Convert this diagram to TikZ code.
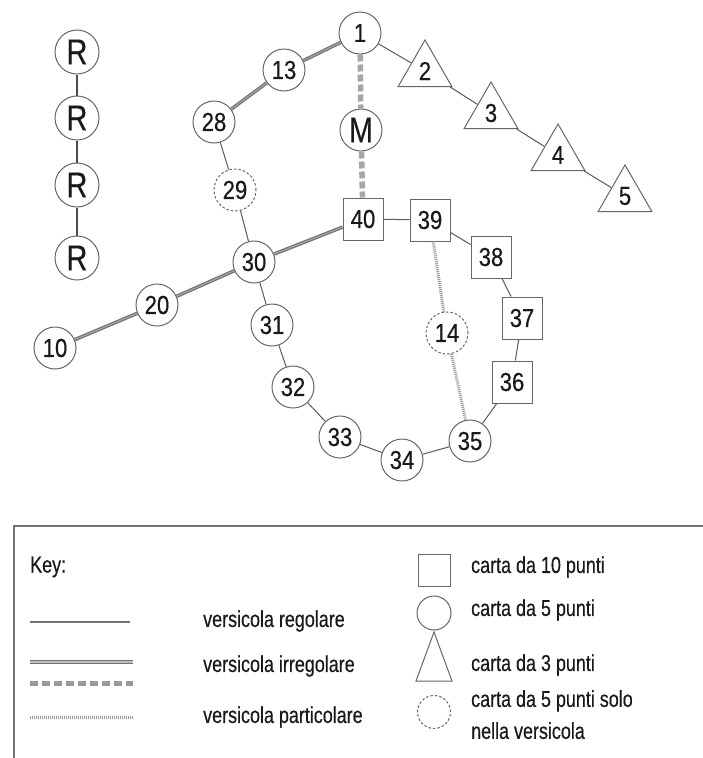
\documentclass[tikz,border=0pt]{standalone}
\usepackage{fontspec}
\setmainfont{Liberation Sans}
\newfontfamily\narrowfont[FakeStretch=0.85, FakeBold=0.4]{Liberation Sans}
\newfontfamily\keynarrowfont[FakeStretch=0.78, FakeBold=0.4]{Liberation Sans}
\newfontfamily\bignarrowfont[FakeStretch=0.8, FakeBold=0.3]{Liberation Sans}
\usetikzlibrary{shapes.geometric}
\begin{document}
\begin{tikzpicture}[x=1pt,y=-1pt,
  nodefont/.style={font=\narrowfont\fontsize{26}{28}\selectfont},
  bigfont/.style={font=\bignarrowfont\fontsize{36}{38}\selectfont},
  keyfont/.style={font=\keynarrowfont\fontsize{23}{32}\selectfont, text=black!90, inner sep=0pt, anchor=west, align=left},
  base/.style={draw=black!60, line width=1pt, fill=white, inner sep=0pt, text=black!90},
  cnode/.style={base, circle, minimum size=42pt, nodefont},
  dnode/.style={cnode, dash pattern=on 2.5pt off 2pt},
  rnode/.style={cnode, minimum size=44pt, bigfont},
  snode/.style={base, rectangle, minimum width=40pt, minimum height=42pt, nodefont},
  tnode/.style={base, regular polygon, regular polygon sides=3, minimum size=62pt, nodefont},
  reg/.style={draw=black!65, line width=1pt},
  rline/.style={draw=black!70, line width=1.6pt},
  irr/.style={draw=black!55, double=black!35, double distance=1.1pt, line width=1.2pt},
  mdash/.style={draw=black!35, line width=5.5pt, dash pattern=on 7pt off 3pt},
  part/.style={draw=black!40, line width=3pt, dash pattern=on 1pt off 1pt},
  frame/.style={draw=black!55, line width=1.6pt}
]
\useasboundingbox (0,0) rectangle (702,758);

% R column
\node[rnode] (r1) at (77,52) {R};
\node[rnode] (r2) at (77,118) {R};
\node[rnode] (r3) at (77,185) {R};
\node[rnode] (r4) at (77,258) {R};

% main nodes
\node[cnode] (n1) at (360,33) {1};
\node[cnode] (n13) at (284,70) {13};
\node[cnode] (n28) at (214,122) {28};
\node[dnode] (n29) at (235,190) {29};
\node[cnode] (n30) at (254,262) {30};
\node[cnode] (n20) at (157,305) {20};
\node[cnode] (n10) at (55,348) {10};
\node[cnode, bigfont] (nM) at (361,130) {M};
\node[snode] (n40) at (363,219) {40};
\node[snode] (n39) at (430,220) {39};
\node[snode] (n38) at (491,257) {38};
\node[snode] (n37) at (522,318) {37};
\node[snode] (n36) at (512,382) {36};
\node[cnode] (n35) at (470,441) {35};
\node[cnode] (n34) at (402,460) {34};
\node[cnode] (n33) at (340,437) {33};
\node[cnode] (n32) at (293,387) {32};
\node[cnode] (n31) at (272,325) {31};
\node[dnode] (n14) at (447,333) {14};
\node[tnode] (n2) at (425,71) {2};
\node[tnode] (n3) at (491,113) {3};
\node[tnode] (n4) at (558,155) {4};
\node[tnode] (n5) at (625,196) {5};

% connectors
\draw[rline] (r1) -- (r2);
\draw[rline] (r2) -- (r3);
\draw[rline] (r3) -- (r4);

\draw[irr] (n1) -- (n13);
\draw[irr] (n13) -- (n28);
\draw[irr] (n30) -- (n40);
\draw[irr] (n30) -- (n20);
\draw[irr] (n20) -- (n10);
\draw[reg] (n28) -- (n29);
\draw[reg] (n29) -- (n30);
\draw[mdash] (n1) -- (nM);
\draw[mdash] (nM) -- (n40);
\draw[reg] (n1) -- (n2);
\draw[reg] (n2) -- (n3);
\draw[reg] (n3) -- (n4);
\draw[reg] (n4) -- (n5);
\draw[reg] (n40) -- (n39);
\draw[reg] (n39) -- (n38);
\draw[reg] (n38) -- (n37);
\draw[reg] (n37) -- (n36);
\draw[reg] (n36) -- (n35);
\draw[reg] (n35) -- (n34);
\draw[reg] (n34) -- (n33);
\draw[reg] (n33) -- (n32);
\draw[reg] (n32) -- (n31);
\draw[reg] (n31) -- (n30);
\draw[part] (n39) -- (n14);
\draw[part] (n14) -- (n35);

% legend frame
\draw[frame] (14,770) -- (14,526) -- (712,526);
\node[keyfont] (key) at (30,567) {Key:};

\coordinate (ra) at (30,622); \coordinate (rb) at (130,622);
\draw[draw=black!55, line width=1.8pt] (ra) -- (rb);
\node[keyfont] (lreg) at (203,621) {versicola regolare};

\coordinate (ia) at (30,662); \coordinate (ib) at (133,662);
\draw[draw=black!55, double=black!25, double distance=1.6pt, line width=1.6pt] (ia) -- (ib);
\coordinate (da) at (30,683); \coordinate (db) at (133,683);
\draw[draw=black!40, line width=5pt, dash pattern=on 8pt off 4pt] (da) -- (db);
\node[keyfont] (lirr) at (203,666) {versicola irregolare};

\coordinate (pa) at (30,717); \coordinate (pb) at (133,717);
\draw[part] (pa) -- (pb);
\node[keyfont] (lpart) at (203,717) {versicola particolare};

\node[base, rectangle, minimum size=32pt] (ksq) at (434,570) {};
\node[keyfont] (lsq) at (471,567) {carta da 10 punti};
\node[base, circle, minimum size=34pt] (kci) at (434,613) {};
\node[keyfont] (lci) at (471,610) {carta da 5 punti};
\draw[draw=black!60, line width=1pt] (434,632) -- (452,681) -- (416,681) -- cycle;
\node[keyfont] (ltr) at (471,665) {carta da 3 punti};
\node[base, circle, minimum size=33pt, dash pattern=on 2.5pt off 2pt] (kdc) at (434,712) {};
\node[keyfont, anchor=north west] (ldc) at (471,690) {carta da 5 punti solo\\nella versicola};
\end{tikzpicture}
\end{document}
